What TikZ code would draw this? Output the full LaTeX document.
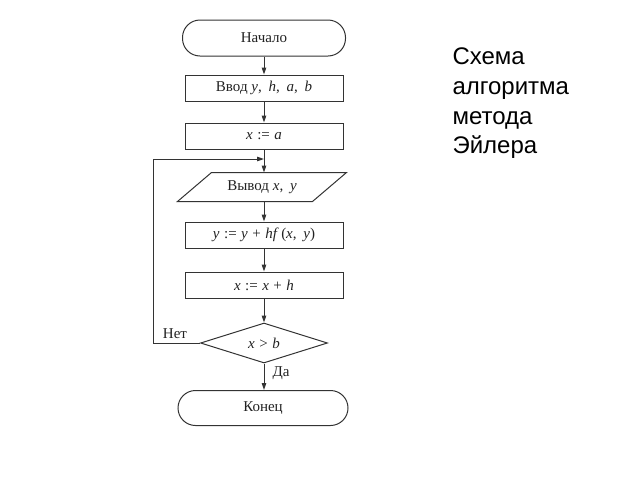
\documentclass[tikz,border=0pt]{standalone}
\usepackage{fontspec}
\setmainfont{Liberation Serif}
\newfontfamily\capfont{Liberation Sans}
\usetikzlibrary{shapes.geometric,arrows.meta,calc}
\newcommand\vr[1]{\textit{#1}}
\newcommand\sep{,\hspace{0.45em}}
\newcommand\op[1]{\hspace{0.3em}#1\hspace{0.3em}}
\definecolor{ink}{HTML}{333333}
\definecolor{txt}{HTML}{222222}
\begin{document}
\begin{tikzpicture}[x=1pt,y=-1pt,
  line width=1pt, draw=ink, text=txt,
  every node/.style={font=\fontsize{15}{17}\selectfont, text=txt},
  box/.style={draw=ink, line width=1pt, rectangle, minimum width=158pt, minimum height=26pt, inner sep=0pt},
  term/.style={draw=ink, line width=1pt, rectangle, rounded corners=17.5pt, minimum height=36pt, inner sep=0pt},
  dec/.style={draw=ink, line width=1pt, diamond, aspect=3.2, minimum width=127pt, minimum height=40pt, inner sep=0pt},
  flow/.style={draw=ink, line width=1pt, -{Triangle[length=7pt,width=4.5pt]}},
  titletext/.style={font=\capfont\fontsize{24}{28}\selectfont, text=black, anchor=base west, inner sep=0pt}]
\useasboundingbox (0,0) rectangle (640,480);
\node[term, minimum width=163pt] (start) at (264,38) {Начало};
\node[box] (in) at (264,88) {Ввод \vr{y}\sep\vr{h}\sep\vr{a}\sep\vr{b}};
\node[box] (xa) at (264,136) {\vr{x}\op{:=}\vr{a}};
\node[minimum width=168pt, minimum height=28pt, inner sep=0pt] (out) at (262,187) {Вывод \vr{x}\sep\vr{y}};
\draw[ink, line width=1pt] (out.south west) -- ($(out.south east)+(-34,0)$) -- (out.north east) -- ($(out.north west)+(34,0)$) -- cycle;
\node[box] (yy) at (264,235) {\vr{y}\op{:=}\vr{y}\op{+}\vr{hf}\,(\vr{x}\sep\vr{y})};
\node[box] (xx) at (264,285) {\vr{x}\op{:=}\vr{x}\op{+}\vr{h}};
\node[dec] (cond) at (264,343) {\vr{x}\op{>}\vr{b}};
\node[term, minimum width=170pt, minimum height=35pt] (end) at (263,408) {Конец};
\coordinate (j) at (264,159);
\coordinate (c1) at (153,343);
\coordinate (c2) at (153,159);
\draw[flow] (start.south) -- (start.south |- in.north);
\draw[flow] (in.south) -- (in.south |- xa.north);
\draw[flow] (xa.south) -- (xa.south |- out.north);
\draw[flow] (xa.south |- out.south) -- (xa.south |- yy.north);
\draw[flow] (yy.south) -- (yy.south |- xx.north);
\draw[flow] (xx.south) -- (cond.north);
\draw[flow] (cond.south) -- (cond.south |- end.north);
\draw[flow] (cond.west) -- (c1) -- (c2) -- (j);
\node (no) at (175,334) {Нет};
\node (yes) at (281,373) {Да};
\node[titletext] (t1) at (452,64) {Схема};
\node[titletext] (t2) at (452,94) {алгоритма};
\node[titletext] (t3) at (452,124) {метода};
\node[titletext] (t4) at (452,153) {Эйлера};
\end{tikzpicture}
\end{document}
